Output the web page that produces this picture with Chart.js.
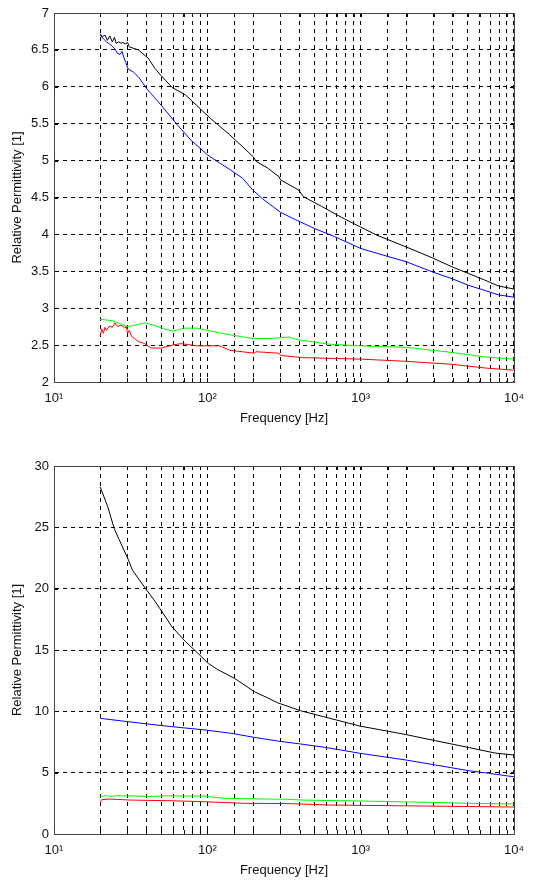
<!DOCTYPE html>
<html>
<head>
<meta charset="utf-8">
<script src="https://cdn.jsdelivr.net/npm/chart.js@4/dist/chart.umd.min.js"></script>
<style>
  html, body { margin: 0; padding: 0; background: #ffffff; }
  .wrap { width: 533px; height: 441px; position: relative; }
  canvas { display: block; }
</style>
</head>
<body>
<div class="wrap"><canvas id="top" width="533" height="441"></canvas></div>
<div class="wrap"><canvas id="bottom" width="533" height="441"></canvas></div>
<script>
// ---------- tick labels ----------
const xTickValues = [10, 100, 1000, 10000];
const xTickLabels = ['10\u00B9', '10\u00B2', '10\u00B3', '10\u2074'];
const yTicksTop = [2, 2.5, 3, 3.5, 4, 4.5, 5, 5.5, 6, 6.5, 7];
const yTicksBottom = [0, 5, 10, 15, 20, 25, 30];
const xTitle = 'Frequency [Hz]';
const yTitle = 'Relative Permittivity [1]';

// ---------- top chart data ----------
const topBlackFreq = [20, 20.7, 21.5, 22.3, 23.1, 24.0, 24.8, 25.4, 26.4, 27.4, 28.2, 29.2, 30.2, 31, 35.5, 39.4, 41.1, 45.5, 50, 59, 72, 87, 105, 140, 200, 208, 247, 294, 300, 395, 424, 556, 783, 1000, 1274, 1982, 2951, 3946, 5050, 6460, 7940, 10000];
const topBlackVal  = [6.72, 6.68, 6.70, 6.63, 6.69, 6.61, 6.67, 6.59, 6.61, 6.59, 6.60, 6.58, 6.60, 6.54, 6.50, 6.42, 6.39, 6.25, 6.15, 5.99, 5.89, 5.73, 5.57, 5.35, 5.05, 4.99, 4.90, 4.78, 4.74, 4.60, 4.51, 4.38, 4.21, 4.10, 3.99, 3.83, 3.68, 3.56, 3.47, 3.38, 3.30, 3.26];

const topBlueFreq = [20, 21, 22, 23, 24, 25, 26, 27, 27.8, 28.5, 29.5, 30.5, 33, 36, 40, 45, 50, 64, 78, 100, 120, 140, 170, 198, 230, 300, 375, 500, 676, 1000, 1400, 1982, 2951, 3946, 5050, 6460, 7940, 10000];
const topBlueVal  = [6.70, 6.65, 6.61, 6.58, 6.55, 6.51, 6.45, 6.44, 6.48, 6.40, 6.32, 6.24, 6.20, 6.12, 5.98, 5.86, 5.75, 5.48, 5.28, 5.08, 4.97, 4.88, 4.76, 4.60, 4.48, 4.30, 4.20, 4.08, 3.97, 3.81, 3.72, 3.63, 3.49, 3.40, 3.31, 3.24, 3.18, 3.15];

const topGreenFreq = [20, 24, 27, 30, 34, 39, 45, 52, 59.5, 66, 70, 86, 100, 140, 198, 260, 340, 394, 643, 1000, 1982, 2951, 3946, 6460, 10000];
const topGreenVal  = [2.85, 2.83, 2.79, 2.75, 2.77, 2.80, 2.77, 2.72, 2.69, 2.71, 2.73, 2.73, 2.70, 2.64, 2.59, 2.59, 2.61, 2.57, 2.51, 2.49, 2.47, 2.43, 2.40, 2.34, 2.31];

const topRedFreq = [20, 20.5, 21, 21.5, 22, 23, 24, 25, 26, 27, 28, 29, 29.6, 30.2, 31, 32, 33.5, 35.5, 39, 43, 50, 59.5, 67, 86, 105, 120, 140, 203, 208, 294, 300, 417, 1000, 1982, 3946, 6460, 10000];
const topRedVal  = [2.62, 2.72, 2.66, 2.74, 2.70, 2.76, 2.74, 2.80, 2.75, 2.77, 2.76, 2.73, 2.76, 2.66, 2.70, 2.62, 2.59, 2.55, 2.52, 2.46, 2.46, 2.50, 2.52, 2.49, 2.49, 2.49, 2.43, 2.39, 2.41, 2.39, 2.36, 2.33, 2.31, 2.28, 2.24, 2.19, 2.16];

// ---------- bottom chart data ----------
const botBlackFreq = [20, 22.4, 24.7, 26.6, 30.2, 32.5, 39.6, 46, 58.8, 71.9, 87.4, 101.5, 117, 150, 203, 247, 287, 405, 574, 989, 1982, 3090, 5070, 7520, 10000];
const botBlackVal  = [28.3, 26.7, 24.9, 24.0, 22.5, 21.5, 20.0, 18.9, 16.9, 15.7, 14.7, 13.9, 13.4, 12.7, 11.6, 11.1, 10.7, 10.05, 9.56, 8.8, 8.1, 7.6, 7.05, 6.6, 6.44];

const botBlueFreq = [20, 30.2, 40.6, 58.7, 96.5, 143, 202, 287, 405, 604, 989, 1982, 3090, 5070, 6830, 9100, 10000];
const botBlueVal  = [9.43, 9.16, 8.97, 8.75, 8.48, 8.21, 7.88, 7.58, 7.34, 7.04, 6.58, 6.03, 5.62, 5.16, 4.95, 4.73, 4.67];

const botGreenFreq = [20, 22, 24, 26, 28, 30, 40.6, 55.8, 96.5, 130, 247, 333, 414, 989, 2800, 5070, 10000];
const botGreenVal  = [3.04, 3.12, 3.06, 3.14, 3.10, 3.12, 3.06, 3.12, 3.08, 2.91, 2.85, 2.83, 2.77, 2.69, 2.58, 2.50, 2.45];

const botRedFreq = [20, 20.5, 23, 26, 30.9, 58.7, 96.5, 175, 333, 650, 2640, 5900, 10000];
const botRedVal  = [2.55, 2.80, 2.85, 2.82, 2.77, 2.71, 2.63, 2.50, 2.48, 2.36, 2.28, 2.23, 2.20];

// ---------- helpers ----------
const FONT = '"Liberation Sans", Arial, sans-serif';
const pts = (xs, ys) => xs.map((x, i) => ({ x: x, y: ys[i] }));
const ds = (xs, ys, color) => ({
  data: pts(xs, ys), borderColor: color, backgroundColor: color,
  borderWidth: 1, pointRadius: 0, showLine: true, tension: 0, fill: false
});

const boxPlugin = {
  id: 'box',
  afterDraw(chart) {
    const { ctx, chartArea: a, scales } = chart;
    ctx.save();
    ctx.strokeStyle = '#000';
    ctx.lineWidth = 1;
    ctx.setLineDash([]);
    const L = 4;
    ctx.beginPath();
    scales.x.ticks.forEach(t => {
      const px = Math.round(scales.x.getPixelForValue(t.value)) + 0.5;
      if (px <= a.left + 1 || px >= a.right - 1) return;
      ctx.moveTo(px, a.bottom); ctx.lineTo(px, a.bottom - L);
      ctx.moveTo(px, a.top); ctx.lineTo(px, a.top + L);
    });
    scales.y.ticks.forEach(t => {
      const py = Math.round(scales.y.getPixelForValue(t.value)) + 0.5;
      if (py <= a.top + 1 || py >= a.bottom - 1) return;
      ctx.moveTo(a.left, py); ctx.lineTo(a.left + L, py);
      ctx.moveTo(a.right, py); ctx.lineTo(a.right - L, py);
    });
    ctx.stroke();
    ctx.strokeStyle = '#444';
    ctx.strokeRect(Math.round(a.left) + 0.5, Math.round(a.top) + 0.5,
                   Math.round(a.right - a.left), Math.round(a.bottom - a.top));
    ctx.restore();
  }
};

function makeChart(id, datasets, yMin, yMax, yTicks, pad, xHeight, xTitlePad) {
  return new Chart(document.getElementById(id), {
    type: 'scatter',
    data: { datasets: datasets },
    plugins: [boxPlugin],
    options: {
      responsive: false,
      animation: false,
      devicePixelRatio: 1,
      layout: { padding: pad },
      plugins: { legend: { display: false }, tooltip: { enabled: false } },
      scales: {
        x: {
          type: 'logarithmic', min: 10, max: 10000,
          afterFit(s) { s.height = xHeight; },
          grid: { color: '#000', lineWidth: 1, drawTicks: false },
          border: { display: true, color: '#444', width: 1, dash: [4, 4] },
          ticks: {
            autoSkip: false, maxRotation: 0, padding: 9, color: '#111',
            font: { family: FONT, size: 13 },
            callback(v) {
              const i = xTickValues.findIndex(t => Math.abs(t - v) < 1e-6);
              return i >= 0 ? xTickLabels[i] : '';
            }
          },
          title: { display: true, text: xTitle, color: '#111',
                   font: { family: FONT, size: 13 }, padding: { top: 0, bottom: xTitlePad } }
        },
        y: {
          min: yMin, max: yMax,
          afterBuildTicks(s) { s.ticks = yTicks.map(v => ({ value: v })); },
          afterFit(s) { s.width = 54; },
          grid: { color: '#000', lineWidth: 1, drawTicks: false },
          border: { display: true, color: '#444', width: 1, dash: [4, 4] },
          ticks: { padding: 5, color: '#111', font: { family: FONT, size: 13 },
                   callback(v) { return String(v); } },
          title: { display: true, text: yTitle, color: '#111',
                   font: { family: FONT, size: 13 }, padding: { top: 10, bottom: 0 } }
        }
      }
    }
  });
}

makeChart('top', [
  ds(topBlackFreq, topBlackVal, '#000000'),
  ds(topBlueFreq, topBlueVal, '#0000ff'),
  ds(topGreenFreq, topGreenVal, '#00ff00'),
  ds(topRedFreq, topRedVal, '#ff0000')
], 2, 7, yTicksTop, { top: 13, right: 10, left: 0, bottom: 0 }, 59, 15);

makeChart('bottom', [
  ds(botBlackFreq, botBlackVal, '#000000'),
  ds(botBlueFreq, botBlueVal, '#0000ff'),
  ds(botGreenFreq, botGreenVal, '#00ff00'),
  ds(botRedFreq, botRedVal, '#ff0000')
], 0, 30, yTicksBottom, { top: 25, right: 13, left: 0, bottom: 0 }, 48, 4);
</script>
</body>
</html>
